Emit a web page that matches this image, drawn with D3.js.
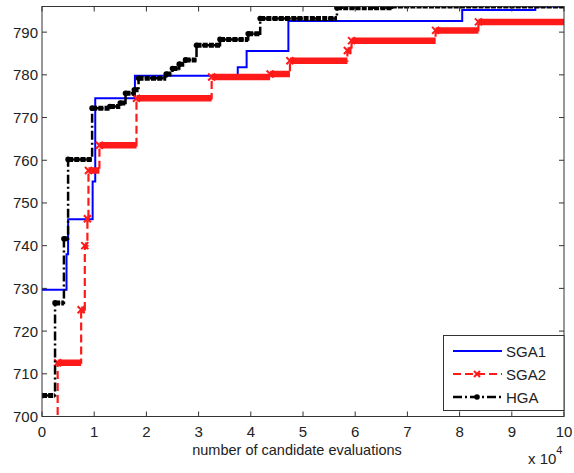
<!DOCTYPE html>
<html>
<head>
<meta charset="utf-8">
<script src="https://cdn.jsdelivr.net/npm/d3@7"></script>
<style>
  body { margin: 0; background: #fff; }
  text { font-family: "Liberation Sans", Arial, sans-serif; fill: #222; }
</style>
</head>
<body>
<div id="chart"></div>
<script>
// step points: value holds from x until the next x (x in units of 10^4 evaluations)
const sga1X = [0, 0.47, 0.50, 0.97, 1.02, 1.78, 3.75, 3.92, 4.72, 8.05, 9.45];
const sga1Y = [729.7, 738, 746.2, 755, 774.5, 779.8, 781.8, 785.6, 792.6, 795.2, 796];

const sga2X = [0.28, 0.30, 0.75, 0.82, 0.87, 0.89, 1.10, 1.81, 3.25, 4.37, 4.75, 5.85, 5.93, 7.54, 8.36];
const sga2Y = [695, 712.6, 725, 740, 746.3, 757.6, 763.5, 774.5, 779.5, 780.2, 783.3, 785.7, 788, 790.4, 792.4];

const hgaX = [0, 0.25, 0.42, 0.50, 0.96, 1.30, 1.50, 1.60, 1.77, 1.85, 2.38, 2.50, 2.63, 2.75, 2.96, 3.41, 3.95, 4.18, 5.65, 6.70];
const hgaY = [704.9, 726.6, 741.6, 760.2, 772.2, 772.6, 773.4, 775.7, 776.5, 779.2, 780.2, 781.5, 782.5, 783.5, 786.9, 788.3, 789.6, 793.2, 795.7, 796.1];

const xTicks = [0, 1, 2, 3, 4, 5, 6, 7, 8, 9, 10];
const yTicks = [700, 710, 720, 730, 740, 750, 760, 770, 780, 790];
const seriesNames = ["SGA1", "SGA2", "HGA"];

const width = 574, height = 473;
const pLeft = 42, pRight = 564, pTop = 6.5, pBottom = 416.5;

const svg = d3.select("#chart").append("svg")
  .attr("width", width)
  .attr("height", height);

const x = d3.scaleLinear().domain([0, 10]).range([pLeft, pRight]);
const y = d3.scaleLinear().domain([700, 796]).range([pBottom, pTop]);

svg.append("clipPath").attr("id", "clip")
  .append("rect")
  .attr("x", pLeft).attr("y", pTop)
  .attr("width", pRight - pLeft).attr("height", pBottom - pTop);

// build series
function pts(xs, ys) {
  const p = xs.map((v, i) => ({ x: v, y: ys[i] }));
  p.push({ x: 10, y: ys[ys.length - 1] });
  return p;
}
const series = [
  { name: "SGA1", data: pts(sga1X, sga1Y), color: "#0000ff", dash: null, width: 2 },
  { name: "SGA2", data: pts(sga2X, sga2Y), color: "#ff1a1a", dash: "8,4", width: 2.2, band: 6.5, bandDash: null, marker: "x" },
  { name: "HGA", data: pts(hgaX, hgaY), color: "#000000", dash: "9,3,2,3", width: 2.5, band: 5, bandDash: "5,1.2", marker: "dot" }
];

const line = d3.line().x(d => x(d.x)).y(d => y(d.y)).curve(d3.curveStepAfter);
const plot = svg.append("g").attr("clip-path", "url(#clip)");

series.forEach(s => {
  const g = plot.append("g");
  g.append("path")
    .datum(s.data)
    .attr("d", line)
    .attr("fill", "none")
    .attr("stroke", s.color)
    .attr("stroke-width", s.width)
    .attr("stroke-dasharray", s.dash);

  if (s.band) {
    // dense markers on each plateau read as a thick band
    const segs = d3.pairs(s.data);
    g.selectAll("line.band").data(segs).enter().append("line")
      .attr("x1", d => x(d[0].x))
      .attr("x2", d => x(d[1].x))
      .attr("y1", d => y(d[0].y))
      .attr("y2", d => y(d[0].y))
      .attr("stroke", s.color)
      .attr("stroke-width", s.band)
      .attr("stroke-dasharray", s.bandDash);

    const marks = s.data.slice(0, -1);
    if (s.marker === "x") {
      g.selectAll("path.mk").data(marks).enter().append("path")
        .attr("d", d => {
          const cx = x(d.x), cy = y(d.y), r = 3.5;
          return `M${cx - r},${cy - r}L${cx + r},${cy + r}M${cx - r},${cy + r}L${cx + r},${cy - r}`;
        })
        .attr("stroke", s.color).attr("stroke-width", 2);
    } else {
      g.selectAll("circle.mk").data(marks).enter().append("circle")
        .attr("cx", d => x(d.x)).attr("cy", d => y(d.y)).attr("r", 2.8)
        .attr("fill", s.color);
    }
  }
});

// axes box and ticks
const axisColor = "#333";
svg.append("rect")
  .attr("x", pLeft).attr("y", pTop)
  .attr("width", pRight - pLeft).attr("height", pBottom - pTop)
  .attr("fill", "none").attr("stroke", axisColor).attr("stroke-width", 1);

const tl = 5;
xTicks.forEach(t => {
  svg.append("line").attr("x1", x(t)).attr("x2", x(t)).attr("y1", pBottom).attr("y2", pBottom - tl).attr("stroke", axisColor);
  svg.append("line").attr("x1", x(t)).attr("x2", x(t)).attr("y1", pTop).attr("y2", pTop + tl).attr("stroke", axisColor);
  svg.append("text").attr("x", x(t)).attr("y", 437)
    .attr("text-anchor", "middle").attr("font-size", 15).text(t);
});
yTicks.forEach(t => {
  svg.append("line").attr("x1", pLeft).attr("x2", pLeft + tl).attr("y1", y(t)).attr("y2", y(t)).attr("stroke", axisColor);
  svg.append("line").attr("x1", pRight).attr("x2", pRight - tl).attr("y1", y(t)).attr("y2", y(t)).attr("stroke", axisColor);
  svg.append("text").attr("x", 38).attr("y", y(t) + 5.5)
    .attr("text-anchor", "end").attr("font-size", 15).text(t);
});

svg.append("text").attr("x", 297).attr("y", 455)
  .attr("text-anchor", "middle").attr("font-size", 14.5)
  .text("number of candidate evaluations");

const exp = svg.append("text").attr("x", 528).attr("y", 464).attr("font-size", 15);
exp.append("tspan").text("x 10");
exp.append("tspan").attr("dy", -10).attr("font-size", 11).text("4");

// legend
const lg = svg.append("g");
lg.append("rect")
  .attr("x", 443.5).attr("y", 335.5).attr("width", 120.5).attr("height", 75)
  .attr("fill", "#fff").attr("stroke", axisColor);
const ly = d3.scalePoint().domain(seriesNames).range([351, 397]);
series.forEach(s => {
  const yy = ly(s.name);
  lg.append("line").attr("x1", 453).attr("x2", 502).attr("y1", yy).attr("y2", yy)
    .attr("stroke", s.color).attr("stroke-width", s.width)
    .attr("stroke-dasharray", s.dash);
  if (s.marker === "x") {
    const r = 3;
    lg.append("path")
      .attr("d", `M${477 - r},${yy - r}L${477 + r},${yy + r}M${477 - r},${yy + r}L${477 + r},${yy - r}`)
      .attr("stroke", s.color).attr("stroke-width", 2);
  } else if (s.marker === "dot") {
    lg.append("circle").attr("cx", 477).attr("cy", yy).attr("r", 2.8).attr("fill", s.color);
  }
  lg.append("text").attr("x", 506).attr("y", yy + 5.5).attr("font-size", 15).text(s.name);
});
</script>
</body>
</html>
